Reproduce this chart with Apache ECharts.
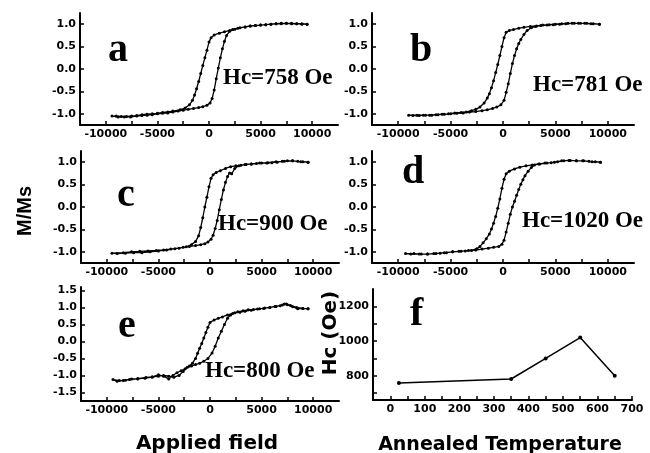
<!DOCTYPE html>
<html>
<head>
<meta charset="utf-8">
<script src="https://cdn.jsdelivr.net/npm/echarts@6/dist/echarts.min.js"></script>
<style>
  html, body { margin: 0; padding: 0; background: #fff; }
  #main { width: 650px; height: 453px; }
</style>
</head>
<body>
<div id="main"></div>
<script>
// tick positions / labels
var fieldTicks = [-10000, -7500, -5000, -2500, 0, 2500, 5000, 7500, 10000];
var fieldLabels = [-10000, -5000, 0, 5000, 10000];
var mTicks = [-1, -0.5, 0, 0.5, 1];
var mTicksE = [-1.5, -1, -0.5, 0, 0.5, 1, 1.5];
var tempTicks = [0, 50, 100, 150, 200, 250, 300, 350, 400, 450, 500, 550, 600, 650, 700];
var tempLabels = [0, 100, 200, 300, 400, 500, 600, 700];
var hcTicks = [700, 800, 900, 1000, 1100, 1200];
var hcLabels = [800, 1000, 1200];

// loops: [field (Oe), M/Ms], measured from +H down to -H and back
var loopA = [
  [9500,1.00],[9000,1.01],[8500,1.01],[8000,1.02],[7500,1.02],[7000,1.01],[6500,1.01],[6000,1.00],[5500,0.99],[5000,0.98],
  [4500,0.97],[4000,0.96],[3500,0.94],[3000,0.92],[2500,0.89],[2000,0.86],[1500,0.83],[1000,0.80],[500,0.76],[200,0.70],
  [0,0.60],[-200,0.42],[-400,0.25],[-600,0.08],[-800,-0.10],[-1000,-0.28],[-1200,-0.44],[-1400,-0.58],[-1600,-0.70],[-1900,-0.80],
  [-2300,-0.87],[-2800,-0.91],[-3500,-0.94],[-4000,-0.96],[-4500,-0.97],[-5000,-0.99],[-5500,-1.00],[-6000,-1.01],[-6500,-1.02],[-7000,-1.04],
  [-7500,-1.05],[-8000,-1.06],[-8500,-1.06],[-9000,-1.05],[-9400,-1.05],
  [-8800,-1.07],[-8200,-1.07],[-7600,-1.07],[-7000,-1.05],[-6500,-1.04],[-6000,-1.03],[-5500,-1.02],[-5000,-1.00],[-4500,-0.99],[-4000,-0.98],
  [-3500,-0.96],[-3000,-0.94],[-2500,-0.92],[-2000,-0.90],[-1500,-0.88],[-1000,-0.86],[-600,-0.84],[-200,-0.81],[100,-0.76],[300,-0.66],
  [500,-0.47],[700,-0.22],[900,0.02],[1100,0.25],[1300,0.45],[1500,0.62],[1700,0.75],[2000,0.84],[2300,0.88],[2800,0.91],
  [3500,0.94],[4000,0.96],[4500,0.97],[5000,0.98],[5500,0.99],[6000,1.00],[6500,1.01],[7000,1.02],[7500,1.02],[8000,1.01],
  [8500,1.01],[9000,1.00],[9500,1.00]
];
var loopB = [
  [9200,1.00],[8600,1.01],[8000,1.02],[7400,1.02],[6800,1.02],[6200,1.02],[5600,1.01],[5000,1.00],[4400,0.99],[3800,0.98],
  [3200,0.96],[2600,0.95],[2000,0.93],[1500,0.91],[1000,0.88],[600,0.86],[300,0.82],[100,0.70],[-100,0.50],[-300,0.30],
  [-500,0.10],[-700,-0.08],[-900,-0.26],[-1100,-0.42],[-1300,-0.55],[-1500,-0.65],[-1800,-0.76],[-2200,-0.85],[-2600,-0.90],[-3000,-0.93],
  [-3500,-0.96],[-4000,-0.97],[-4600,-0.98],[-5200,-1.00],[-5800,-1.01],[-6400,-1.02],[-7000,-1.03],[-7600,-1.03],[-8200,-1.03],[-9000,-1.03],
  [-8600,-1.04],[-8000,-1.04],[-7400,-1.03],[-6800,-1.03],[-6200,-1.02],[-5600,-1.01],[-5000,-1.00],[-4400,-0.99],[-3800,-0.98],[-3200,-0.96],
  [-2600,-0.95],[-2000,-0.93],[-1500,-0.91],[-1000,-0.88],[-600,-0.85],[-200,-0.80],[100,-0.70],[300,-0.52],[500,-0.33],[700,-0.10],
  [900,0.12],[1100,0.30],[1300,0.45],[1500,0.57],[1700,0.66],[2000,0.77],[2300,0.86],[2700,0.92],[3100,0.95],[3600,0.97],
  [4200,0.98],[4800,0.99],[5400,1.00],[6000,1.01],[6600,1.02],[7200,1.02],[7800,1.02],[8400,1.01],[9200,1.00]
];
var loopC = [
  [9500,1.00],[9000,1.01],[8500,1.02],[8000,1.03],[7500,1.03],[7000,1.02],[6500,1.00],[6000,0.99],[5500,0.98],[5000,0.98],
  [4500,0.97],[4000,0.96],[3500,0.95],[3000,0.93],[2500,0.92],[2000,0.90],[1500,0.86],[1000,0.81],[600,0.77],[300,0.72],
  [100,0.64],[-100,0.45],[-300,0.22],[-500,0.00],[-700,-0.24],[-900,-0.46],[-1100,-0.64],[-1400,-0.77],[-1800,-0.84],[-2300,-0.89],
  [-3000,-0.92],[-3800,-0.94],[-4500,-0.96],[-5200,-0.97],[-6000,-0.98],[-6800,-0.99],[-7600,-1.00],[-8400,-1.02],[-9500,-1.03],
  [-9000,-1.04],[-8200,-1.03],[-7400,-1.02],[-6600,-1.02],[-5800,-1.00],[-5000,-0.98],[-4200,-0.96],[-3400,-0.93],[-2600,-0.90],[-2000,-0.88],
  [-1400,-0.86],[-900,-0.84],[-500,-0.82],[-200,-0.78],[100,-0.72],[300,-0.63],[500,-0.48],[700,-0.30],[900,-0.06],[1100,0.17],
  [1300,0.38],[1500,0.55],[1700,0.68],[1900,0.76],[2100,0.74],[2400,0.86],[2800,0.92],[3400,0.95],[4000,0.96],[4800,0.98],
  [5600,0.99],[6400,1.01],[7200,1.02],[8000,1.03],[8800,1.01],[9500,1.00]
];
var loopD = [
  [9300,1.00],[8800,1.01],[8200,1.02],[7600,1.03],[7000,1.03],[6400,1.04],[5800,1.03],[5200,1.01],[4600,0.99],[4000,0.98],
  [3400,0.96],[2800,0.94],[2200,0.92],[1600,0.89],[1100,0.85],[600,0.80],[300,0.74],[100,0.62],[-100,0.42],[-300,0.18],
  [-500,-0.03],[-700,-0.21],[-900,-0.36],[-1100,-0.49],[-1300,-0.60],[-1600,-0.71],[-1900,-0.80],[-2200,-0.88],[-2500,-0.93],[-3000,-0.97],
  [-3600,-0.98],[-4200,-0.99],[-4800,-1.00],[-5400,-1.02],[-6000,-1.03],[-6600,-1.04],[-7200,-1.05],[-7800,-1.05],[-8500,-1.04],[-9300,-1.04],
  [-8800,-1.05],[-8000,-1.05],[-7200,-1.05],[-6400,-1.04],[-5600,-1.02],[-4800,-1.00],[-4000,-0.99],[-3300,-0.97],[-2600,-0.96],[-2000,-0.94],
  [-1400,-0.92],[-900,-0.90],[-400,-0.88],[-100,-0.83],[100,-0.74],[300,-0.56],[500,-0.36],[700,-0.16],[900,0.00],[1100,0.13],
  [1300,0.26],[1500,0.39],[1700,0.51],[1900,0.61],[2100,0.70],[2400,0.80],[2700,0.88],[3000,0.94],[3500,0.96],[4200,0.98],
  [4900,1.00],[5600,1.03],[6300,1.04],[7000,1.03],[7700,1.03],[8500,1.01],[9300,1.00]
];
var loopE = [
  [9500,0.96],[9000,0.97],[8500,0.96],[8000,1.02],[7500,1.08],[7200,1.10],[6800,1.05],[6300,1.03],[5800,1.00],[5300,0.98],
  [4800,0.96],[4200,0.94],[3700,0.93],[3200,0.90],[2700,0.87],[2200,0.82],[1700,0.78],[1200,0.72],[800,0.68],[400,0.63],
  [0,0.56],[-200,0.42],[-400,0.26],[-600,0.10],[-800,-0.06],[-1000,-0.20],[-1200,-0.35],[-1400,-0.50],[-1700,-0.64],[-2000,-0.72],
  [-2400,-0.80],[-2800,-0.86],[-3200,-0.92],[-3600,-1.00],[-4000,-1.10],[-4500,-1.02],[-5000,-0.98],[-5600,-1.04],[-6200,-1.06],[-7000,-1.09],
  [-7600,-1.10],[-8200,-1.14],[-8800,-1.15],[-9400,-1.12],
  [-9000,-1.17],[-8400,-1.15],[-7800,-1.12],[-7000,-1.10],[-6300,-1.08],[-5600,-1.05],[-5000,-1.02],[-4500,-1.00],[-4000,-1.02],[-3500,-1.05],
  [-3000,-1.00],[-2600,-0.88],[-2200,-0.76],[-1800,-0.72],[-1400,-0.68],[-1000,-0.64],[-600,-0.58],[-200,-0.50],[200,-0.34],[500,-0.14],
  [800,0.10],[1100,0.30],[1400,0.50],[1700,0.68],[2000,0.78],[2400,0.84],[2900,0.86],[3400,0.89],[4000,0.92],[4600,0.95],
  [5200,0.97],[5800,1.00],[6400,1.03],[7000,1.07],[7400,1.10],[7800,1.06],[8400,1.00],[9000,0.97],[9500,0.96]
];

// panel f
var annealTemp = [25, 350, 450, 550, 650];
var coercivity = [758, 781, 900, 1020, 800];

var grids = [
  { left: 80, top: 13, width: 258, height: 112 },
  { left: 372, top: 13, width: 262, height: 112 },
  { left: 81, top: 151, width: 258, height: 112 },
  { left: 372, top: 151, width: 262, height: 112 },
  { left: 81, top: 287, width: 258, height: 114 },
  { left: 373, top: 289, width: 259, height: 111 }
];

function axisBase(gi, ticks, labels, fmt) {
  return {
    gridIndex: gi,
    type: 'value',
    axisLine: { show: true, onZero: false, lineStyle: { color: '#000', width: 2 } },
    axisTick: { show: true, inside: true, length: 4, customValues: ticks, lineStyle: { color: '#000', width: 1.5 } },
    axisLabel: {
      color: '#000', fontFamily: 'DejaVu Sans', fontWeight: 'bold', fontSize: 11, margin: 4,
      customValues: labels, formatter: fmt
    },
    splitLine: { show: false }
  };
}

var xAxes = [], yAxes = [], series = [];
var loops = [loopA, loopB, loopC, loopD, loopE];
loops.forEach(function (loop, i) {
  var xa = axisBase(i, fieldTicks, fieldLabels, function (v) { return String(v); });
  xa.min = -12500; xa.max = 12500;
  xAxes.push(xa);
  var ya;
  if (i === 4) {
    ya = axisBase(i, mTicksE, mTicksE, function (v) { return v.toFixed(1); });
    ya.min = -1.75; ya.max = 1.6;
  } else {
    ya = axisBase(i, mTicks, mTicks, function (v) { return v.toFixed(1); });
    ya.min = -1.25; ya.max = 1.25;
  }
  yAxes.push(ya);
  series.push({
    type: 'line', xAxisIndex: i, yAxisIndex: i, data: loop,
    symbol: 'circle', symbolSize: 3, showSymbol: true,
    lineStyle: { color: '#000', width: 1.3 }, itemStyle: { color: '#000' },
    silent: true
  });
});

var xf = axisBase(5, tempTicks, tempLabels, function (v) { return String(v); });
xf.min = -50; xf.max = 700;
xAxes.push(xf);
var yf = axisBase(5, hcTicks, hcLabels, function (v) { return String(v); });
yf.min = 660; yf.max = 1300;
yAxes.push(yf);
series.push({
  type: 'line', xAxisIndex: 5, yAxisIndex: 5,
  data: annealTemp.map(function (t, k) { return [t, coercivity[k]]; }),
  symbol: 'circle', symbolSize: 4, showSymbol: true,
  lineStyle: { color: '#000', width: 1.5 }, itemStyle: { color: '#000' },
  silent: true
});

function txt(str, x, y, font, align, rot) {
  return {
    type: 'text', x: x, y: y, rotation: rot || 0,
    style: {
      text: str, font: font, fill: '#000',
      align: align || 'left', textAlign: align || 'left',
      verticalAlign: 'middle', textVerticalAlign: 'middle'
    }
  };
}

var letterFont = 'bold 40px "Liberation Serif"';
var hcFont = 'bold 23px "Liberation Serif"';
var graphics = [
  txt('a', 108, 51, letterFont),
  txt('b', 410, 51, letterFont),
  txt('c', 117, 196, letterFont),
  txt('d', 402, 173, letterFont),
  txt('e', 118, 327, letterFont),
  txt('f', 410, 315, letterFont),
  txt('Hc=758 Oe', 223, 78, hcFont),
  txt('Hc=781 Oe', 533, 85, hcFont),
  txt('Hc=900 Oe', 218, 224, hcFont),
  txt('Hc=1020 Oe', 522, 221, hcFont),
  txt('Hc=800 Oe', 205, 371, hcFont),
  txt('M/Ms', 25, 211, 'bold 20px "Liberation Sans"', 'center', Math.PI / 2),
  txt('Hc (Oe)', 331, 333, 'bold 20px "DejaVu Sans"', 'center', Math.PI / 2),
  txt('Applied field', 207, 444, 'bold 20px "DejaVu Sans"', 'center'),
  txt('Annealed Temperature', 500, 445, 'bold 19px "DejaVu Sans"', 'center')
];

var chart = echarts.init(document.getElementById('main'), null, { renderer: 'canvas' });
chart.setOption({
  backgroundColor: '#fff',
  animation: false,
  grid: grids,
  xAxis: xAxes,
  yAxis: yAxes,
  series: series,
  graphic: graphics
});
</script>
</body>
</html>
